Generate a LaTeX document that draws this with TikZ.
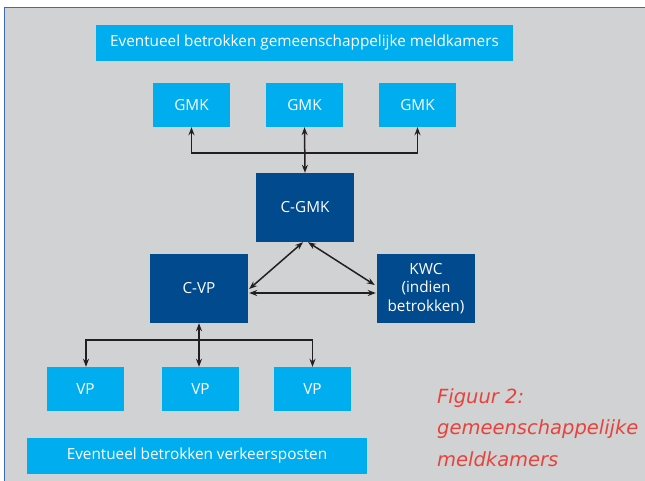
\documentclass[tikz,border=0pt]{standalone}
\usepackage{fontspec}
\setmainfont{Open Sans}
\newfontfamily\captionfont{DejaVu Sans}
\usetikzlibrary{arrows.meta,calc}
\definecolor{bggrey}{RGB}{209,210,212}
\definecolor{cyanbox}{RGB}{0,174,239}
\definecolor{navybox}{RGB}{0,74,141}
\definecolor{frameblue}{RGB}{62,108,178}
\definecolor{captionred}{RGB}{232,66,59}
\definecolor{linedark}{RGB}{35,31,32}
\begin{document}
\begin{tikzpicture}[x=1pt,y=-1pt,
  boxtext/.style={text=white,inner sep=0pt,font=\fontsize{15.3}{18.5}\selectfont},
  lightbox/.style={boxtext,fill=cyanbox,minimum width=77pt,minimum height=44pt},
  darkbox/.style={boxtext,fill=navybox,minimum width=98pt,minimum height=69pt,align=center},
  banner/.style={boxtext,fill=cyanbox,minimum height=36pt},
  tip/.tip={Stealth[length=8pt,width=6pt]},
  link/.style={draw=linedark,line width=1.5pt,-tip},
  dlink/.style={draw=linedark,line width=1.5pt,tip-tip}]
\useasboundingbox (0,0) rectangle (645,481);
\clip (0,0) rectangle (645,481);
\fill[white] (0,0) rectangle (645,481);
\draw[fill=bggrey,draw=frameblue,line width=1.3pt] (4.5,7.5) rectangle (660,495);
% top row
\node[banner,minimum width=417pt] (bannertop) at (304.5,43) {Eventueel betrokken gemeenschappelijke meldkamers};
\node[lightbox] (gmka) at (191.5,105) {GMK};
\node[lightbox] (gmkb) at (304.5,105) {GMK};
\node[lightbox] (gmkc) at (417.5,105) {GMK};
% centre
\node[darkbox] (cgmk) at (305,207.5) {C-GMK};
\node[darkbox] (cvp) at (199,288.5) {C-VP};
\node[darkbox] (kwc) at (426,288.5) {KWC\\(indien\\betrokken)};
% bottom row
\node[lightbox] (vpa) at (85.5,389) {VP};
\node[lightbox] (vpb) at (200.5,389) {VP};
\node[lightbox] (vpc) at (312.5,389) {VP};
\node[banner,minimum width=340pt] (bannerbot) at (197,456) {Eventueel betrokken verkeersposten};
% caption
\node[anchor=base west,align=left,inner sep=0pt,text=captionred,
      font=\captionfont\itshape\fontsize{19.5}{31.5}\selectfont] (caption) at (437,466)
      {Figuur 2:\\gemeenschappelijke\\meldkamers};
% connectors top
\coordinate (topbus) at (gmkb.south |- 0,153);
\draw[dlink] (gmkb.south) -- (cgmk.north);
\draw[link] (topbus) -| (gmka.south);
\draw[link] (topbus) -| (gmkc.south);
% triangle
\draw[dlink] ($(cgmk.south)+(-2,0)$) -- ($(cvp.east)+(1,0.5)$);
\draw[dlink] ($(cgmk.south)+(3,0)$) -- ($(kwc.west)+(-2,-3.5)$);
\draw[dlink] ($(cvp.east)+(1,4.5)$) -- ($(kwc.west)+(-1,4.5)$);
% connectors bottom
\coordinate (botbus) at (cvp.south |- 0,340);
\draw[dlink] (cvp.south) -- (cvp.south |- vpb.north);
\draw[link] (botbus) -| ($(vpa.north)+(0.5,0)$);
\draw[link] (botbus) -| (vpc.north);
\end{tikzpicture}
\end{document}
